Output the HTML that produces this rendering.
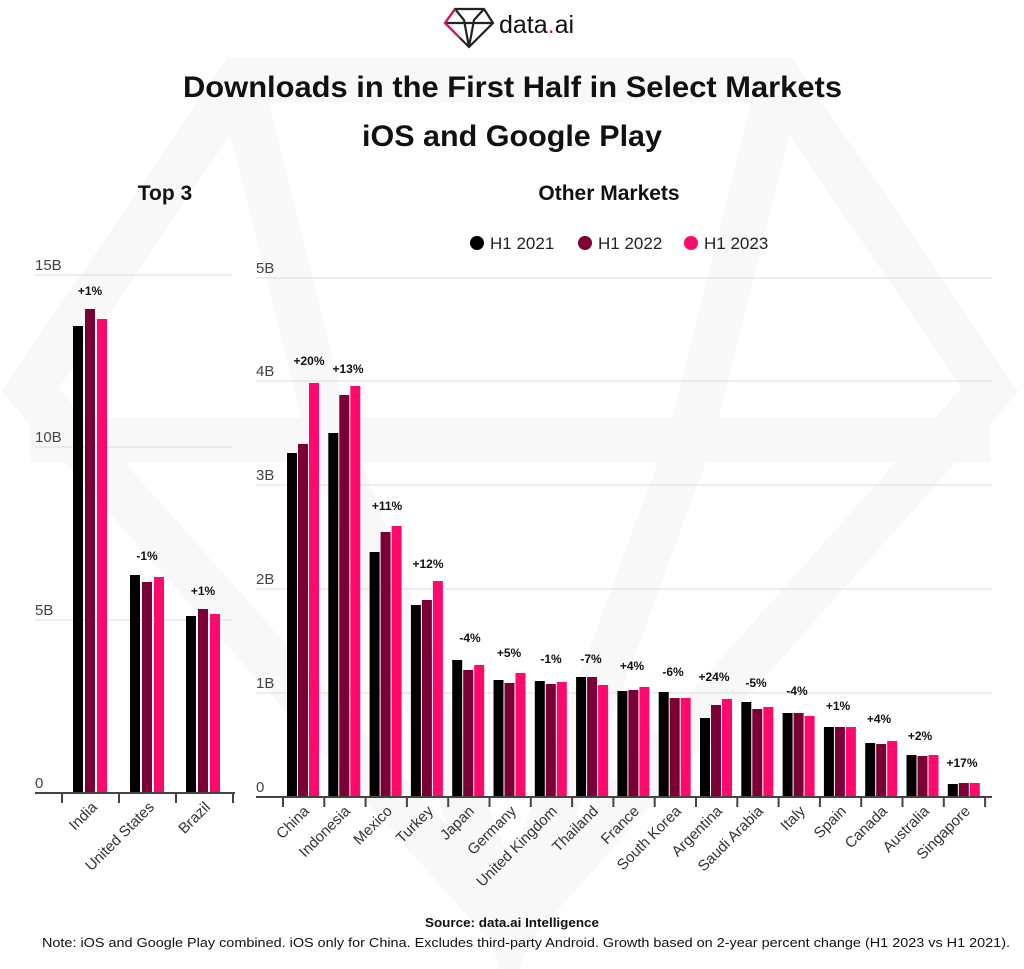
<!DOCTYPE html>
<html><head><meta charset="utf-8"><style>
html,body{margin:0;padding:0;background:#fff;}
svg{display:block;font-family:"Liberation Sans",sans-serif;}
.t{font-weight:bold;fill:#111;}
.ax{fill:#444;font-size:15px;}
.lb{font-size:15px;fill:#333;}
.pc{font-size:12px;font-weight:bold;fill:#111;text-anchor:middle;}
</style></head><body>
<svg width="1024" height="969" viewBox="0 0 1024 969" xmlns="http://www.w3.org/2000/svg">
<rect width="1024" height="969" fill="#fff"/>
<g fill="none" stroke="#f8f8f8" stroke-width="45">
<polygon points="240,80 780,80 990,390 510,930 30,390"/>
<polyline points="240,80 330,440 510,930 690,440 780,80"/>
<line x1="30" y1="440" x2="990" y2="440"/>
</g>
<g fill="none" stroke-width="2.2">
<polygon points="455,9 484,9 493,23 469,47 445,23" stroke="#222"/>
<polyline points="455,9 464,20 469,47 474,20 484,9" stroke="#222"/>
<line x1="445" y1="23" x2="493" y2="23" stroke="#222"/>
<polyline points="455,9 445,23 460,38" stroke="#e0106a"/>
</g>
<text x="499" y="33" font-size="25" fill="#111">data<tspan fill="#e0106a">.</tspan>ai</text>
<text x="183" y="97" class="t" font-size="30" textLength="659" lengthAdjust="spacingAndGlyphs">Downloads in the First Half in Select Markets</text>
<text x="362" y="146" class="t" font-size="30" textLength="300" lengthAdjust="spacingAndGlyphs">iOS and Google Play</text>
<text x="165" y="200" class="t" font-size="21" text-anchor="middle">Top 3</text>
<text x="609" y="200" class="t" font-size="21" text-anchor="middle">Other Markets</text>
<circle cx="477" cy="243" r="7" fill="#000"/><text x="490" y="249" font-size="17" fill="#222">H1 2021</text>
<circle cx="585" cy="243" r="7" fill="#7a0035"/><text x="598" y="249" font-size="17" fill="#222">H1 2022</text>
<circle cx="691" cy="243" r="7" fill="#ff0a6c"/><text x="704" y="249" font-size="17" fill="#222">H1 2023</text>

<g stroke="#ddd" stroke-width="1">
<line x1="35" y1="275" x2="232" y2="275"/><line x1="35" y1="447" x2="232" y2="447"/><line x1="35" y1="620" x2="232" y2="620"/>
</g>
<g class="ax"><text x="35" y="270">15B</text><text x="35" y="442">10B</text><text x="35" y="615">5B</text><text x="35" y="788">0</text></g>
<g stroke="#ddd" stroke-width="1">
<line x1="256" y1="278" x2="992" y2="278"/><line x1="256" y1="381" x2="992" y2="381"/><line x1="256" y1="485" x2="992" y2="485"/><line x1="256" y1="589" x2="992" y2="589"/><line x1="256" y1="693" x2="992" y2="693"/>
</g>
<g class="ax"><text x="256" y="273">5B</text><text x="256" y="376">4B</text><text x="256" y="480">3B</text><text x="256" y="584">2B</text><text x="256" y="688">1B</text><text x="256" y="792">0</text></g>

<g>
<rect x="73" y="326" width="10" height="467" fill="#000"/><rect x="85" y="309" width="10" height="484" fill="#7a0035"/><rect x="97" y="319" width="10" height="474" fill="#ff0a6c"/>
<rect x="130" y="575" width="10" height="218" fill="#000"/><rect x="142" y="582" width="10" height="211" fill="#7a0035"/><rect x="154" y="577" width="10" height="216" fill="#ff0a6c"/>
<rect x="186" y="616" width="10" height="177" fill="#000"/><rect x="198" y="609" width="10" height="184" fill="#7a0035"/><rect x="210" y="614" width="10" height="179" fill="#ff0a6c"/>
</g>
<g stroke="#444" stroke-width="2"><line x1="35" y1="793" x2="235" y2="793"/>
<line x1="62" y1="793" x2="62" y2="803"/><line x1="119" y1="793" x2="119" y2="803"/><line x1="176" y1="793" x2="176" y2="803"/><line x1="233" y1="793" x2="233" y2="803"/></g>
<text class="pc" x="90" y="295">+1%</text><text class="pc" x="147" y="560">-1%</text><text class="pc" x="203" y="595">+1%</text>
<g class="lb" text-anchor="end">
<text transform="translate(98,808) rotate(-45)">India</text>
<text transform="translate(155,808) rotate(-45)">United States</text>
<text transform="translate(211,808) rotate(-45)">Brazil</text>
</g>

<g>
<rect x="287" y="453" width="10" height="344" fill="#000"/><rect x="298" y="444" width="10" height="353" fill="#7a0035"/><rect x="309" y="383" width="10" height="414" fill="#ff0a6c"/>
<rect x="328.3" y="433" width="10" height="364" fill="#000"/><rect x="339.3" y="395" width="10" height="402" fill="#7a0035"/><rect x="350.3" y="386" width="10" height="411" fill="#ff0a6c"/>
<rect x="369.6" y="552" width="10" height="245" fill="#000"/><rect x="380.6" y="532" width="10" height="265" fill="#7a0035"/><rect x="391.6" y="526" width="10" height="271" fill="#ff0a6c"/>
<rect x="410.9" y="605" width="10" height="192" fill="#000"/><rect x="421.9" y="600" width="10" height="197" fill="#7a0035"/><rect x="432.9" y="581" width="10" height="216" fill="#ff0a6c"/>
<rect x="452.2" y="660" width="10" height="137" fill="#000"/><rect x="463.2" y="670" width="10" height="127" fill="#7a0035"/><rect x="474.2" y="665" width="10" height="132" fill="#ff0a6c"/>
<rect x="493.5" y="680" width="10" height="117" fill="#000"/><rect x="504.5" y="683" width="10" height="114" fill="#7a0035"/><rect x="515.5" y="673" width="10" height="124" fill="#ff0a6c"/>
<rect x="534.8" y="681" width="10" height="116" fill="#000"/><rect x="545.8" y="684" width="10" height="113" fill="#7a0035"/><rect x="556.8" y="682" width="10" height="115" fill="#ff0a6c"/>
<rect x="576.1" y="677" width="10" height="120" fill="#000"/><rect x="587.1" y="677" width="10" height="120" fill="#7a0035"/><rect x="598.1" y="685" width="10" height="112" fill="#ff0a6c"/>
<rect x="617.4" y="691" width="10" height="106" fill="#000"/><rect x="628.4" y="690" width="10" height="107" fill="#7a0035"/><rect x="639.4" y="687" width="10" height="110" fill="#ff0a6c"/>
<rect x="658.7" y="692" width="10" height="105" fill="#000"/><rect x="669.7" y="698" width="10" height="99" fill="#7a0035"/><rect x="680.7" y="698" width="10" height="99" fill="#ff0a6c"/>
<rect x="700" y="718" width="10" height="79" fill="#000"/><rect x="711" y="705" width="10" height="92" fill="#7a0035"/><rect x="722" y="699" width="10" height="98" fill="#ff0a6c"/>
<rect x="741.3" y="702" width="10" height="95" fill="#000"/><rect x="752.3" y="709" width="10" height="88" fill="#7a0035"/><rect x="763.3" y="707" width="10" height="90" fill="#ff0a6c"/>
<rect x="782.6" y="713" width="10" height="84" fill="#000"/><rect x="793.6" y="713" width="10" height="84" fill="#7a0035"/><rect x="804.6" y="716" width="10" height="81" fill="#ff0a6c"/>
<rect x="823.9" y="727" width="10" height="70" fill="#000"/><rect x="834.9" y="727" width="10" height="70" fill="#7a0035"/><rect x="845.9" y="727" width="10" height="70" fill="#ff0a6c"/>
<rect x="865.2" y="743" width="10" height="54" fill="#000"/><rect x="876.2" y="744" width="10" height="53" fill="#7a0035"/><rect x="887.2" y="741" width="10" height="56" fill="#ff0a6c"/>
<rect x="906.5" y="755" width="10" height="42" fill="#000"/><rect x="917.5" y="756" width="10" height="41" fill="#7a0035"/><rect x="928.5" y="755" width="10" height="42" fill="#ff0a6c"/>
<rect x="947.8" y="784" width="10" height="13" fill="#000"/><rect x="958.8" y="783" width="10" height="14" fill="#7a0035"/><rect x="969.8" y="783" width="10" height="14" fill="#ff0a6c"/>
</g>
<g stroke="#444" stroke-width="2"><line x1="256" y1="797" x2="992" y2="797"/>
<path d="M283 797v10M324.3 797v10M365.6 797v10M406.9 797v10M448.2 797v10M489.5 797v10M530.8 797v10M572.1 797v10M613.4 797v10M654.7 797v10M696 797v10M737.3 797v10M778.6 797v10M819.9 797v10M861.2 797v10M902.5 797v10M943.8 797v10M985.1 797v10"/></g>
<g>
<text class="pc" x="309" y="365">+20%</text><text class="pc" x="348" y="373">+13%</text><text class="pc" x="387" y="510">+11%</text><text class="pc" x="428" y="568">+12%</text>
<text class="pc" x="470" y="642">-4%</text><text class="pc" x="509" y="657">+5%</text><text class="pc" x="551" y="663">-1%</text><text class="pc" x="591" y="663">-7%</text>
<text class="pc" x="632" y="670">+4%</text><text class="pc" x="673" y="676">-6%</text><text class="pc" x="714" y="681">+24%</text><text class="pc" x="756" y="687">-5%</text>
<text class="pc" x="797" y="695">-4%</text><text class="pc" x="838" y="710">+1%</text><text class="pc" x="879" y="723">+4%</text><text class="pc" x="920" y="740">+2%</text><text class="pc" x="962" y="767">+17%</text>
</g>
<g class="lb" text-anchor="end">
<text transform="translate(310,812) rotate(-45)">China</text>
<text transform="translate(351,812) rotate(-45)">Indonesia</text>
<text transform="translate(393,812) rotate(-45)">Mexico</text>
<text transform="translate(434,812) rotate(-45)">Turkey</text>
<text transform="translate(475,812) rotate(-45)">Japan</text>
<text transform="translate(517,812) rotate(-45)">Germany</text>
<text transform="translate(558,812) rotate(-45)">United Kingdom</text>
<text transform="translate(599,812) rotate(-45)">Thailand</text>
<text transform="translate(640,812) rotate(-45)">France</text>
<text transform="translate(682,812) rotate(-45)">South Korea</text>
<text transform="translate(723,812) rotate(-45)">Argentina</text>
<text transform="translate(764,812) rotate(-45)">Saudi Arabia</text>
<text transform="translate(806,812) rotate(-45)">Italy</text>
<text transform="translate(847,812) rotate(-45)">Spain</text>
<text transform="translate(888,812) rotate(-45)">Canada</text>
<text transform="translate(930,812) rotate(-45)">Australia</text>
<text transform="translate(971,812) rotate(-45)">Singapore</text>
</g>
<text x="425" y="927" font-size="13" font-weight="bold" fill="#111" textLength="174" lengthAdjust="spacingAndGlyphs">Source: data.ai Intelligence</text>
<text x="42" y="947" font-size="13" fill="#111" textLength="968" lengthAdjust="spacingAndGlyphs">Note: iOS and Google Play combined. iOS only for China. Excludes third-party Android. Growth based on 2-year percent change (H1 2023 vs H1 2021).</text>
</svg>
</body></html>
